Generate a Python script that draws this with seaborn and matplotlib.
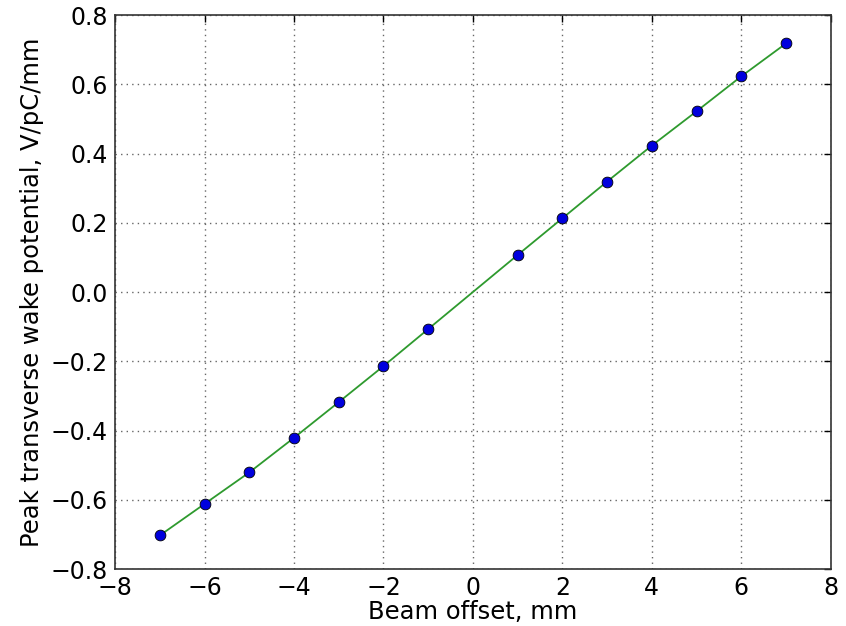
import numpy as np
import pandas as pd
import seaborn as sns
import matplotlib
matplotlib.use("Agg")
import matplotlib.pyplot as plt

# datos
offset_mm = [-7, -6, -5, -4, -3, -2, -1, 1, 2, 3, 4, 5, 6, 7]
wake_v_pc_mm = [-0.703, -0.612, -0.521, -0.421, -0.318, -0.214, -0.107,
                0.107, 0.213, 0.319, 0.423, 0.522, 0.623, 0.718]

df = pd.DataFrame({"offset": offset_mm, "wake": wake_v_pc_mm})

sns.set_style("white")
plt.rcParams["font.family"] = ["DejaVu Sans"]
plt.rcParams["xtick.direction"] = "in"
plt.rcParams["ytick.direction"] = "in"
plt.rcParams["axes.unicode_minus"] = True

fig = plt.figure(figsize=(8.46, 6.26), dpi=100)
ax = fig.add_axes([0.136, 0.091, 0.846, 0.885])

sns.lineplot(data=df, x="offset", y="wake", ax=ax, color="#2e9a2e", lw=1.3,
             sort=True, zorder=2)
sns.scatterplot(data=df, x="offset", y="wake", ax=ax, color="#0000dd",
                edgecolor="black", linewidth=0.6, s=60, zorder=3)

xt = list(range(-8, 9, 2))
yt = [round(v, 1) for v in np.arange(-0.8, 0.81, 0.2)]
ax.set_xlim(-8, 8)
ax.set_ylim(-0.8, 0.8)
ax.set_xticks(xt)
ax.set_yticks(yt)
ax.set_xticklabels([str(v).replace("-", "\u2212") for v in xt])
ax.set_yticklabels([("%.1f" % (v + 0.0)).replace("-", "\u2212") for v in yt])
ax.grid(True, linestyle=(0, (1, 3)), color="#666666", lw=1.0)
ax.tick_params(labelsize=17, labelcolor="black", top=True, right=True,
               length=5, width=1, color="black", pad=5)
for s in ax.spines.values():
    s.set_color("#333333")
    s.set_linewidth(1.2)

ax.set_xlabel("Beam offset, mm", fontsize=17.5, labelpad=0, color="black")
ax.set_ylabel("Peak transverse wake potential, V/pC/mm", fontsize=17.5,
              labelpad=5, color="black")

fig.savefig("out.png", dpi=100)
